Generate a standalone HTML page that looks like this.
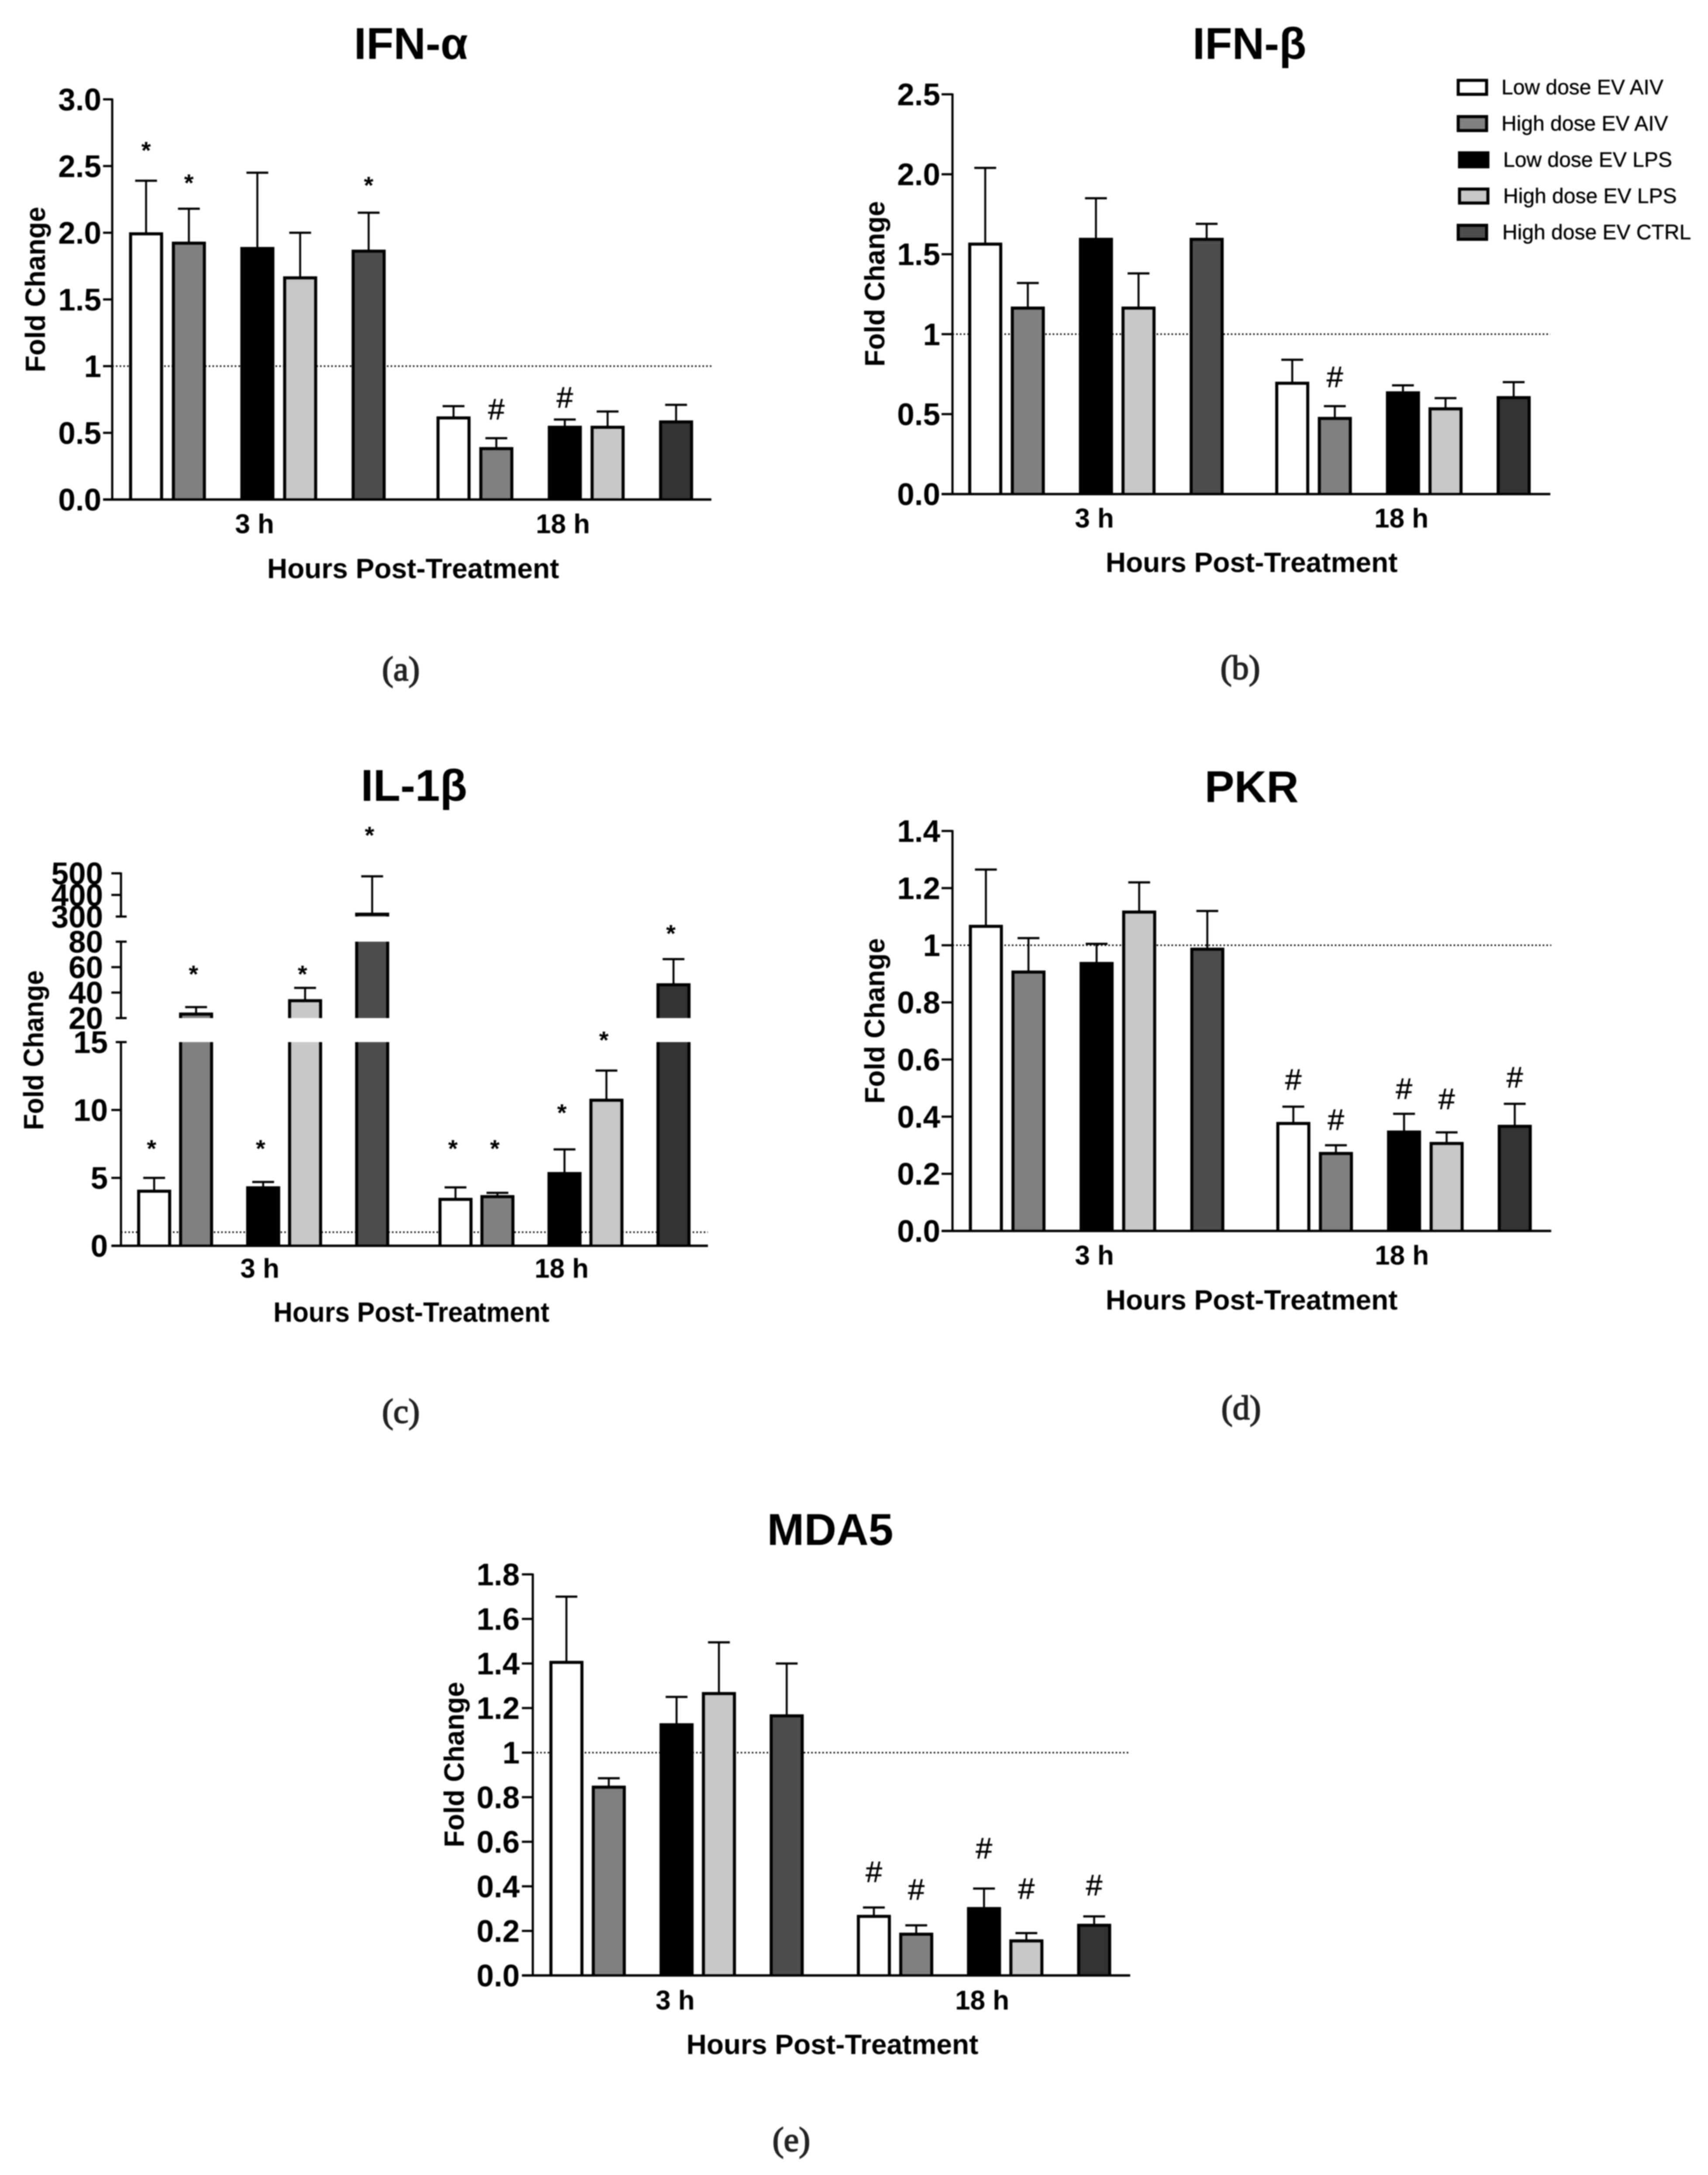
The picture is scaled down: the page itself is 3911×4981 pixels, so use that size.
<!DOCTYPE html>
<html lang="en">
<head>
<meta charset="utf-8">
<title>Fold change of IFN-α, IFN-β, IL-1β, PKR and MDA5</title>
<style>
html,body{margin:0;padding:0;background:#fff;}
svg{display:block;filter:blur(1.2px);}
text{font-family:"Liberation Sans",sans-serif;fill:#000;}
.title{font-size:102px;font-weight:700;text-anchor:middle;}
.axis-title{font-size:64px;font-weight:700;text-anchor:middle;}
.group-label{font-size:62px;font-weight:700;text-anchor:middle;}
.tick-label{font-size:71px;font-weight:700;text-anchor:end;}
.caption{font-family:"Liberation Serif",serif;font-size:78px;text-anchor:middle;fill:#222;stroke:#222;stroke-width:2.2px;}
.legend-text{font-size:48px;stroke:#000;stroke-width:.5px;}
</style>
</head>
<body>
<svg xmlns="http://www.w3.org/2000/svg" width="3911" height="4981" viewBox="0 0 3911 4981">
<rect width="3911" height="4981" fill="#fff"/>

<g id="panel-a">
<text class="title" x="941" y="135">IFN-α</text>
<text class="axis-title" transform="translate(103 663) rotate(-90)" textLength="379" lengthAdjust="spacingAndGlyphs">Fold Change</text>
<text class="group-label" x="583" y="1221">3 h</text>
<text class="group-label" x="1289" y="1221">18 h</text>
<text class="axis-title" x="946" y="1324">Hours Post-Treatment</text>
<text class="caption" x="918" y="1558">(a)</text>
</g>

<g id="panel-b">
<text class="title" x="2861" y="135">IFN-β</text>
<text class="axis-title" transform="translate(2025 650) rotate(-90)" textLength="379" lengthAdjust="spacingAndGlyphs">Fold Change</text>
<text class="group-label" x="2506" y="1208">3 h</text>
<text class="group-label" x="3209" y="1208">18 h</text>
<text class="axis-title" x="2866" y="1310">Hours Post-Treatment</text>
<text class="caption" x="2840" y="1555">(b)</text>
</g>

<g id="panel-c">
<text class="title" x="948" y="1834">IL-1β</text>
<text class="axis-title" transform="translate(99 2405) rotate(-90)" textLength="366" lengthAdjust="spacingAndGlyphs">Fold Change</text>
<text class="group-label" x="595" y="2926">3 h</text>
<text class="group-label" x="1286" y="2926">18 h</text>
<text class="axis-title" x="942" y="3027" textLength="632" lengthAdjust="spacingAndGlyphs">Hours Post-Treatment</text>
<text class="caption" x="918" y="3258">(c)</text>
</g>

<g id="panel-d">
<text class="title" x="2866" y="1837">PKR</text>
<text class="axis-title" transform="translate(2025 2338) rotate(-90)" textLength="379" lengthAdjust="spacingAndGlyphs">Fold Change</text>
<text class="group-label" x="2506" y="2896">3 h</text>
<text class="group-label" x="3210" y="2896">18 h</text>
<text class="axis-title" x="2866" y="2999">Hours Post-Treatment</text>
<text class="caption" x="2842" y="3250">(d)</text>
</g>

<g id="panel-e">
<text class="title" x="1901" y="3538">MDA5</text>
<text class="axis-title" transform="translate(1062 4041) rotate(-90)" textLength="379" lengthAdjust="spacingAndGlyphs">Fold Change</text>
<text class="group-label" x="1546" y="4602">3 h</text>
<text class="group-label" x="2249" y="4602">18 h</text>
<text class="axis-title" x="1906" y="4704">Hours Post-Treatment</text>
<text class="caption" x="1812" y="4926">(e)</text>
</g>

<g id="legend">
<g>
<rect x="3339" y="184" width="65" height="32" fill="#fff" stroke="#000" stroke-width="7"/>
<text class="legend-text" x="3438" y="216">Low dose EV AIV</text>
</g>
<g>
<rect x="3339" y="267" width="65" height="32" fill="#808080" stroke="#000" stroke-width="7"/>
<text class="legend-text" x="3438" y="299">High dose EV AIV</text>
</g>
<g>
<rect x="3342" y="350" width="65" height="32" fill="#000" stroke="#000" stroke-width="7"/>
<text class="legend-text" x="3442" y="382">Low dose EV LPS</text>
</g>
<g>
<rect x="3342" y="433" width="65" height="32" fill="#c8c8c8" stroke="#000" stroke-width="7"/>
<text class="legend-text" x="3442" y="465">High dose EV LPS</text>
</g>
<g>
<rect x="3339" y="516" width="65" height="32" fill="#4d4d4d" stroke="#000" stroke-width="7"/>
<text class="legend-text" x="3440" y="548">High dose EV CTRL</text>
</g>
</g>
</svg>

<script>
// ---- Chart data (order: 3 h then 18 h; within each: low AIV, high AIV, low LPS, high LPS, high CTRL) ----
const seriesNames = ['low-dose-ev-aiv', 'high-dose-ev-aiv', 'low-dose-ev-lps', 'high-dose-ev-lps', 'high-dose-ev-ctrl'];
const groupNames = ['3h', '18h'];

const ifnAlphaTicks = ['0.0', '0.5', '1', '1.5', '2.0', '2.5', '3.0'];
const ifnAlphaMeans = [2.0, 1.93, 1.89, 1.67, 1.87, 0.62, 0.39, 0.55, 0.55, 0.59];
const ifnAlphaErrors = [0.39, 0.25, 0.56, 0.33, 0.28, 0.08, 0.07, 0.05, 0.11, 0.12];
const ifnAlphaMarks = ['*', '*', '', '', '*', '', '#', '#', '', ''];
const ifnAlphaMarkGaps = [0.244, 0.21, 0, 0, 0.222, 0, 0.218, 0.166, 0, 0];

const ifnBetaTicks = ['0.0', '0.5', '1', '1.5', '2.0', '2.5'];
const ifnBetaMeans = [1.57, 1.17, 1.6, 1.17, 1.6, 0.7, 0.48, 0.64, 0.54, 0.61];
const ifnBetaErrors = [0.47, 0.15, 0.25, 0.21, 0.09, 0.14, 0.07, 0.04, 0.06, 0.09];
const ifnBetaMarks = ['', '', '', '', '', '', '#', '', '', ''];
const ifnBetaMarkGaps = [0, 0, 0, 0, 0, 0, 0.183, 0, 0, 0];

const il1BetaTicksLow = ['0', '5', '10', '15'];
const il1BetaTicksMid = ['20', '40', '60', '80'];
const il1BetaTicksHigh = ['300', '400', '500'];
const il1BetaMeans = [4.1, 24, 4.35, 34.5, 316, 3.5, 3.7, 5.4, 10.8, 47];
const il1BetaErrors = [0.9, 4.6, 0.35, 9.2, 170, 0.8, 0.2, 1.7, 2.1, 19.3];
const il1BetaMarks = ['*', '*', '*', '*', '*', '*', '*', '*', '*', '*'];
const il1BetaMarkGaps = [2.32, 27.6, 2.62, 12.5, 200, 3.02, 3.42, 2.85, 2.4, 21.7];

const pkrTicks = ['0.0', '0.2', '0.4', '0.6', '0.8', '1', '1.2', '1.4'];
const pkrMeans = [1.07, 0.91, 0.94, 1.12, 0.99, 0.38, 0.275, 0.35, 0.31, 0.37];
const pkrErrors = [0.195, 0.115, 0.065, 0.1, 0.13, 0.055, 0.025, 0.06, 0.035, 0.075];
const pkrMarks = ['', '', '', '', '', '#', '#', '#', '#', '#'];
const pkrMarkGaps = [0, 0, 0, 0, 0, 0.095, 0.09, 0.088, 0.117, 0.093];

const mda5Ticks = ['0.0', '0.2', '0.4', '0.6', '0.8', '1', '1.2', '1.4', '1.6', '1.8'];
const mda5Means = [1.41, 0.85, 1.13, 1.27, 1.17, 0.27, 0.19, 0.305, 0.16, 0.23];
const mda5Errors = [0.29, 0.035, 0.12, 0.225, 0.23, 0.035, 0.035, 0.085, 0.03, 0.035];
const mda5Marks = ['', '', '', '', '', '#', '#', '#', '#', '#'];
const mda5MarkGaps = [0, 0, 0, 0, 0, 0.16, 0.161, 0.181, 0.2, 0.141];

// ---- Drawing ----
const SVG_NS = 'http://www.w3.org/2000/svg';

function make(tag, attrs, parent) {
  const el = document.createElementNS(SVG_NS, tag);
  Object.keys(attrs).forEach(function (k) { el.setAttribute(k, attrs[k]); });
  parent.appendChild(el);
  return el;
}

function fillFor(series, group) {
  const fills = ['#ffffff', '#808080', '#000000', '#c8c8c8', group === 0 ? '#4d4d4d' : '#333333'];
  return fills[series];
}

function drawPanel(root, name, cfg, means, errors, marks, gaps) {
  // value -> pixel on a (possibly broken) y axis
  function segmentFor(v) {
    for (let i = 0; i < cfg.segments.length; i++) {
      const next = cfg.segments[i + 1];
      if (!next || v <= (cfg.segments[i].hi + next.lo) / 2) return cfg.segments[i];
    }
    return cfg.segments[cfg.segments.length - 1];
  }
  function yScale(v) {
    const s = segmentFor(v);
    return s.bottom + (v - s.lo) * (s.top - s.bottom) / (s.hi - s.lo);
  }
  // bar index -> centre pixel
  function xScale(i) {
    const group = Math.floor(i / 5);
    const series = i % 5;
    return cfg.first + group * cfg.groupStep + cfg.step * (series + 0.6 * Math.floor(series / 2));
  }
  const y0 = cfg.segments[0].bottom;
  const ref = make('line', { x1: cfg.axisX, x2: cfg.right, y1: yScale(1), y2: yScale(1), stroke: '#000', 'stroke-width': 3.5, 'stroke-dasharray': '3.5 5' }, root);
  
  

  const barWidth = 78;
  const sw = 7;
  const markShift = cfg.markShift || 0;
  means.forEach(function (m, i) {
    const x = xScale(i);
    const series = i % 5;
    const group = Math.floor(i / 5);
    const top = m + errors[i];
    const errLine = make('line', { x1: x, x2: x, y1: yScale(m), y2: yScale(top), stroke: '#000', 'stroke-width': 4.5 }, root);
    
    
    const errCap = make('line', { x1: x - 25, x2: x + 25, y1: yScale(top), y2: yScale(top), stroke: '#000', 'stroke-width': 5 }, root);
    
    

    cfg.segments.forEach(function (s) {
      if (m <= s.lo) return;
      const capped = m <= s.hi;
      const yTop = s.bottom + (Math.min(m, s.hi) - s.lo) * (s.top - s.bottom) / (s.hi - s.lo);
      const outerTop = capped ? yTop - 1 : yTop;
      const outer = make('rect', { x: x - barWidth / 2, y: outerTop, width: barWidth, height: s.bottom - outerTop, fill: '#000' }, root);
      
      
      const innerTop = capped ? yTop + sw - 1 : yTop;
      const innerH = Math.max(0, s.bottom - innerTop);
      const inner = make('rect', { x: x - barWidth / 2 + sw, y: innerTop, width: barWidth - 2 * sw, height: innerH, fill: fillFor(series, group) }, root);
      
      
    });

    if (marks[i]) {
      const isStar = marks[i] === '*';
      const my = yScale(top + gaps[i]);
      const mark = make('text', { x: isStar ? x + markShift : x, y: my + (isStar ? 24 : 23.5), 'text-anchor': 'middle', 'font-size': isStar ? 56 : 68, 'font-weight': isStar ? 700 : 400, stroke: '#000', 'stroke-width': isStar ? 0 : 0.8 }, root);
      mark.textContent = marks[i];
      
      
    }
  });

  // axes
  cfg.segments.forEach(function (s) {
    const axis = make('line', { x1: cfg.axisX, x2: cfg.axisX, y1: s.bottom + 2, y2: s.top - 2, stroke: '#000', 'stroke-width': 5 }, root);
    
    
    s.ticks.forEach(function (label) {
      const v = parseFloat(label);
      const y = s.bottom + (v - s.lo) * (s.top - s.bottom) / (s.hi - s.lo);
      const short = (cfg.shortTicks || []).indexOf(v) >= 0;
      const tick = make('line', { x1: short ? cfg.axisX - 12 : cfg.axisX - cfg.tickLen, x2: short ? cfg.axisX + 13 : cfg.axisX, y1: y, y2: y, stroke: '#000', 'stroke-width': 5 }, root);
      
      
      const text = make('text', { class: 'tick-label', x: s.labelRight, y: y + 25 }, root);
      text.textContent = label;
      
      
    });
  });
  const xAxis = make('line', { x1: cfg.axisX - cfg.tickLen, x2: cfg.right, y1: y0, y2: y0, stroke: '#000', 'stroke-width': 5.5 }, root);
  
  
}

drawPanel(document.getElementById('panel-a'), 'ifn-alpha', {
  axisX: 257, right: 1629, tickLen: 21, first: 334.5, step: 98, groupStep: 704,
  segments: [{ lo: 0, hi: 3, bottom: 1144, top: 227.5, labelRight: 232, ticks: ifnAlphaTicks }]
}, ifnAlphaMeans, ifnAlphaErrors, ifnAlphaMarks, ifnAlphaMarkGaps);

drawPanel(document.getElementById('panel-b'), 'ifn-beta', {
  axisX: 2181, right: 3550, tickLen: 25, first: 2256, step: 97.5, groupStep: 703,
  segments: [{ lo: 0, hi: 2.5, bottom: 1131.5, top: 216, labelRight: 2153, ticks: ifnBetaTicks }]
}, ifnBetaMeans, ifnBetaErrors, ifnBetaMarks, ifnBetaMarkGaps);

drawPanel(document.getElementById('panel-c'), 'il-1-beta', {
  axisX: 277, right: 1621, tickLen: 22, first: 353, step: 96, groupStep: 690, shortTicks: [15, 20, 80, 300], markShift: -6,
  segments: [
    { lo: 0, hi: 15, bottom: 2853, top: 2386.5, labelRight: 247, ticks: il1BetaTicksLow },
    { lo: 20, hi: 80, bottom: 2331.5, top: 2156.5, labelRight: 236, ticks: il1BetaTicksMid },
    { lo: 300, hi: 500, bottom: 2099, top: 2000, labelRight: 236, ticks: il1BetaTicksHigh }
  ]
}, il1BetaMeans, il1BetaErrors, il1BetaMarks, il1BetaMarkGaps);

drawPanel(document.getElementById('panel-d'), 'pkr', {
  axisX: 2181, right: 3552, tickLen: 25, first: 2257.5, step: 97.5, groupStep: 704,
  segments: [{ lo: 0, hi: 1.4, bottom: 2819, top: 1903, labelRight: 2153, ticks: pkrTicks }]
}, pkrMeans, pkrErrors, pkrMarks, pkrMarkGaps);

drawPanel(document.getElementById('panel-e'), 'mda5', {
  axisX: 1220, right: 2588, tickLen: 25, first: 1297, step: 97, groupStep: 704,
  segments: [{ lo: 0, hi: 1.8, bottom: 4524, top: 3605.5, labelRight: 1190, ticks: mda5Ticks }]
}, mda5Means, mda5Errors, mda5Marks, mda5MarkGaps);
</script>
</body>
</html>
